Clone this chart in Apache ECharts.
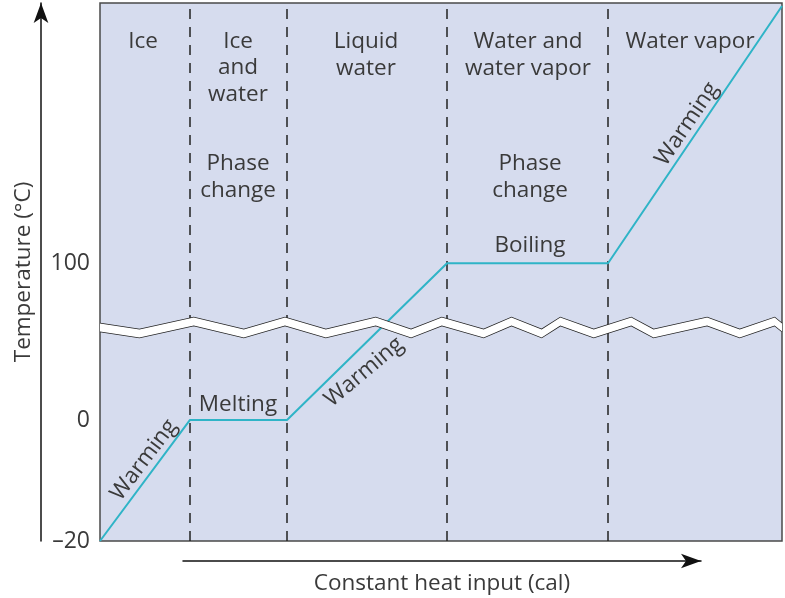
<!DOCTYPE html>
<html><head><meta charset="utf-8">
<script src="https://cdn.jsdelivr.net/npm/echarts@6/dist/echarts.min.js"></script>
<style>html,body{margin:0;padding:0;background:#fff}#c{width:785px;height:598px}</style>
</head><body><div id="c"></div>
<script>
// Schematic heating curve of water
const heatInput = [0, 90, 187, 347, 508, 682];          // cumulative heat (arbitrary units)
const temperature = [-20, 0, 0, 100, 100, 142.5];       // °C
const phaseBoundaries = [90, 187, 347, 508];
const yTickValues = [-20, 0, 100];
const regionLabels = ['Ice', 'Ice\nand\nwater', 'Liquid\nwater', 'Water and\nwater vapor', 'Water vapor'];
const processLabels = ['Warming', 'Melting', 'Warming', 'Boiling', 'Warming'];

const FONT = 'Open Sans';
const FS = 22.5;
const TXT = '#3a3a3a';
const chart = echarts.init(document.getElementById('c'), null, {renderer: 'canvas'});

function txt(text, x, y, rotDeg) {
  return {type: 'text', x: x, y: y, rotation: (rotDeg || 0) * Math.PI / 180, z: 50,
    style: {text: text, fill: TXT, font: `${FS}px "${FONT}"`, align: 'center', verticalAlign: 'middle', lineHeight: 26.5}};
}

chart.setOption({
  animation: false,
  grid: [
    {left: 100, right: 3, top: 3, bottom: 57, show: true, backgroundColor: '#d6dcee', borderColor: '#4a4a4a', borderWidth: 1.5},
    {left: 183, right: 84, top: 560, height: 1, show: false}
  ],
  xAxis: [
    {type: 'value', gridIndex: 0, min: 0, max: 682, axisLine: {show: false}, axisTick: {show: false}, axisLabel: {show: false}, splitLine: {show: false}},
    {type: 'value', gridIndex: 1, min: 0, max: 1, position: 'bottom',
      axisLine: {show: true, symbol: ['none', 'arrow'], symbolSize: [11, 20], lineStyle: {color: '#111', width: 1.5}},
      axisTick: {show: false}, axisLabel: {show: false}, splitLine: {show: false},
      name: 'Constant heat input (cal)', nameLocation: 'middle', nameGap: 11,
      nameTextStyle: {fontFamily: FONT, fontSize: FS, color: TXT}}
  ],
  yAxis: [
    {type: 'value', gridIndex: 0, min: -20, max: 143,
      breaks: [{start: 14.6, end: 90, gap: 1.3}],
      breakArea: {show: true, itemStyle: {color: '#ffffff', borderColor: '#222', borderWidth: 1.5, borderType: 'solid', opacity: 1},
        zigzagAmplitude: 6, zigzagMinSpan: 18, zigzagMaxSpan: 55, expandOnClick: false},
      axisLine: {show: false}, axisTick: {show: false}, splitLine: {show: false},
      axisLabel: {customValues: yTickValues, margin: 10, fontFamily: FONT, fontSize: 23, color: TXT,
        formatter: v => String(v).replace('-', '\u2013')}},
    {type: 'value', gridIndex: 0, min: 0, max: 1, position: 'left', offset: 59,
      axisLine: {show: true, symbol: ['none', 'arrow'], symbolSize: [11, 20], lineStyle: {color: '#111', width: 1.5}},
      axisTick: {show: false}, axisLabel: {show: false}, splitLine: {show: false},
      name: 'Temperature (\u00B0C)', nameLocation: 'middle', nameGap: 6, nameRotate: 90,
      nameTextStyle: {fontFamily: FONT, fontSize: FS, color: TXT}},
    {type: 'value', gridIndex: 1, show: false, min: 0, max: 1}
  ],
  series: [{
    type: 'line', xAxisIndex: 0, yAxisIndex: 0,
    data: heatInput.map((h, i) => [h, temperature[i]]),
    showSymbol: false, symbol: 'none', z: 5,
    lineStyle: {color: '#2fb4c7', width: 2},
    markLine: {silent: true, symbol: ['none', 'none'], label: {show: false},
      lineStyle: {color: '#222', type: [10, 8], width: 1.5},
      data: phaseBoundaries.map(b => ({xAxis: b}))}
  }],
  graphic: [
    txt(regionLabels[0], 143, 42),
    txt(regionLabels[1], 238, 68),
    txt(regionLabels[2], 366, 55),
    txt(regionLabels[3], 528, 55),
    txt(regionLabels[4], 690, 42),
    txt('Phase\nchange', 238, 177),
    txt('Phase\nchange', 530, 177),
    txt(processLabels[0], 144, 460, 53),
    txt(processLabels[1], 238, 405),
    txt(processLabels[2], 364, 372, 40),
    txt(processLabels[3], 530, 246),
    txt(processLabels[4], 687, 124, 56)
  ]
});
</script></body></html>
